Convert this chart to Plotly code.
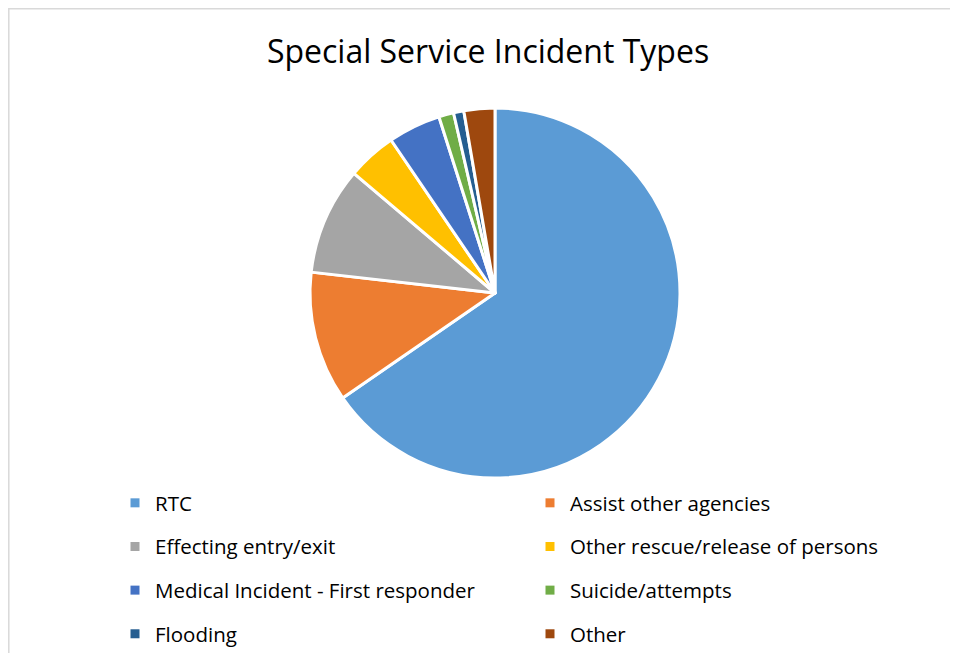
import plotly.graph_objects as go

categories = ["RTC", "Assist other agencies", "Effecting entry/exit",
              "Other rescue/release of persons", "Medical Incident - First responder",
              "Suicide/attempts", "Flooding", "Other"]
values = [654, 114, 94, 43, 46, 13, 9, 27]
colors = ["#5B9BD5", "#ED7D31", "#A5A5A5", "#FFC000", "#4472C4", "#70AD47", "#255E91", "#9E480E"]
title_text = "Special Service Incident Types"

W, H = 958, 653
FONT = "Open Sans"

fig = go.Figure()
fig.add_trace(go.Pie(
    labels=categories, values=values, sort=False, direction="clockwise", rotation=0,
    marker=dict(colors=colors, line=dict(color="white", width=3)),
    textinfo="none", hoverinfo="label+value+percent", showlegend=False,
    domain=dict(x=[302 / W, 672 / W], y=[1 - 470 / H, 1 - 100 / H]),
))

# legend entries: left column = even indices, right column = odd indices
for i, (cat, col) in enumerate(zip(categories, colors)):
    fig.add_trace(go.Scatter(
        x=[None], y=[None], mode="markers", name=cat,
        marker=dict(symbol="square", size=9, color=col),
        legend="legend" if i % 2 == 0 else "legend2",
        legendgroup=cat, showlegend=True, hoverinfo="skip",
    ))

leg_common = dict(font=dict(family=FONT, size=20.5, color="#000000"),
                  tracegroupgap=14, bgcolor="rgba(0,0,0,0)", yanchor="top",
                  orientation="v", traceorder="grouped", itemclick=False)

fig.update_layout(
    width=W, height=H,
    margin=dict(l=0, r=0, t=0, b=0),
    paper_bgcolor="white", plot_bgcolor="white",
    title=dict(text=title_text, x=480 / W, xanchor="center", y=1 - 44 / H, yanchor="middle",
               font=dict(family=FONT, size=32, color="#000000")),
    xaxis=dict(visible=False, domain=[0, 0.01]),
    yaxis=dict(visible=False, domain=[0, 0.01]),
    legend=dict(x=107 / W, y=1 - 475 / H, xanchor="left", **leg_common),
    legend2=dict(x=522 / W, y=1 - 475 / H, xanchor="left", **leg_common),
    shapes=[dict(type="rect", xref="paper", yref="paper",
                 x0=0.8 / W, x1=1.05, y0=-0.05, y1=1 - 0.8 / H,
                 line=dict(color="#D9D9D9", width=1.5), fillcolor="rgba(0,0,0,0)", layer="below")],
)

fig.write_html("out.html")
